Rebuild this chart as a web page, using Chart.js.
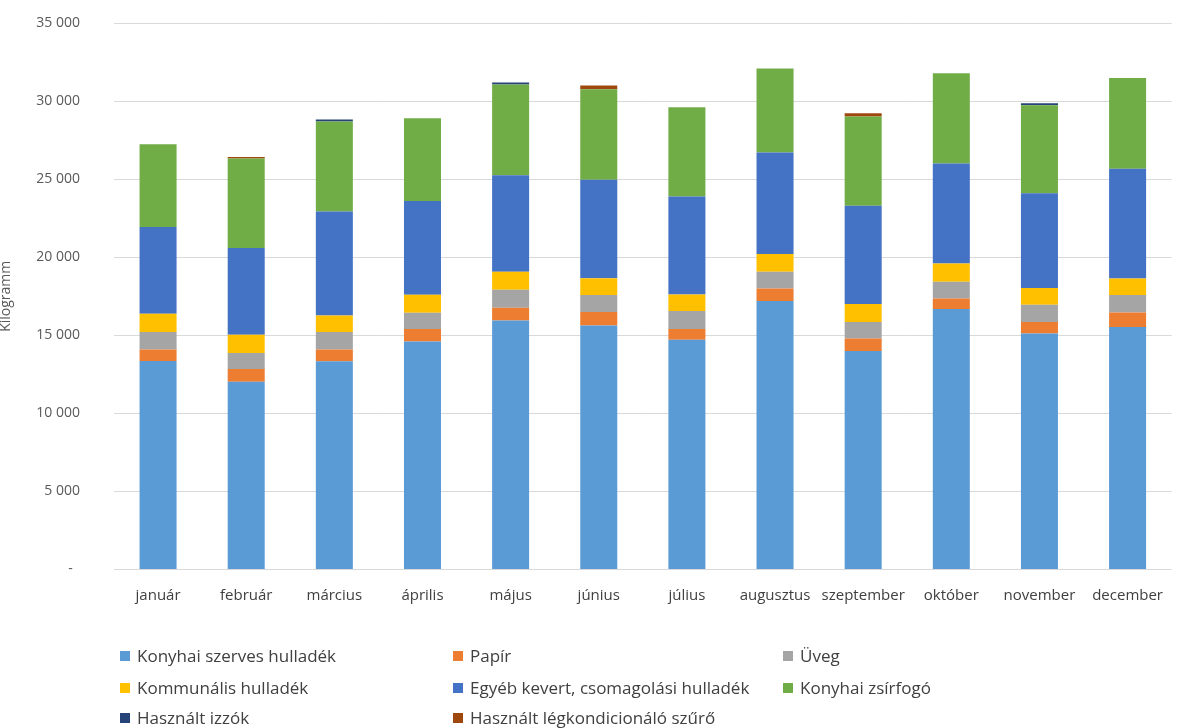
<!DOCTYPE html>
<html>
<head>
<meta charset="utf-8">
<script src="https://cdn.jsdelivr.net/npm/chart.js@4"></script>
<style>
  html, body { margin: 0; padding: 0; background: #fff; overflow: hidden; width: 1177px; height: 728px; }
  #wrap { position: absolute; left: -2px; top: 0; width: 1182px; height: 610px; }
  #legend { position: absolute; left: 0; top: 0; width: 1177px; height: 728px; pointer-events: none;
            font-family: "Open Sans", Lato, sans-serif; font-size: 17px; color: #404040; }
  .li { position: absolute; white-space: nowrap; line-height: 20px; }
  .mk { position: absolute; width: 10px; height: 10px; top: 5px; left: 0; }
  .tx { position: absolute; left: 17px; top: 0; }
</style>
</head>
<body>
<div id="wrap"><canvas id="c"></canvas></div>
<div id="legend"></div>
<script>
const months = ['január','február','március','április','május','június','július','augusztus','szeptember','október','november','december'];

const konyhaiSzerves = [13350, 12020, 13345, 14600, 15950, 15630, 14710, 17190, 13990, 16680, 15115, 15525];
const papir          = [745, 815, 745, 795, 815, 860, 685, 810, 805, 680, 730, 935];
const uveg           = [1115, 1025, 1115, 1045, 1155, 1090, 1155, 1070, 1050, 1070, 1110, 1115];
const kommunalis     = [1175, 1175, 1065, 1155, 1155, 1065, 1065, 1135, 1155, 1175, 1070, 1065];
const egyeb          = [5555, 5560, 6665, 6005, 6175, 6310, 6280, 6495, 6300, 6390, 6065, 7030];
const zsirfogo       = [5295, 5720, 5750, 5295, 5815, 5805, 5705, 5385, 5705, 5790, 5640, 5815];
const izzok          = [0, 0, 130, 0, 130, 0, 0, 0, 0, 0, 130, 0];
const legkondi       = [0, 110, 0, 0, 0, 235, 0, 0, 210, 0, 0, 0];

const seriesNames = ['Konyhai szerves hulladék','Papír','Üveg','Kommunális hulladék','Egyéb kevert, csomagolási hulladék','Konyhai zsírfogó','Használt izzók','Használt légkondicionáló szűrő'];
const seriesValues = [konyhaiSzerves, papir, uveg, kommunalis, egyeb, zsirfogo, izzok, legkondi];
const seriesColors = ['#5B9BD5','#ED7D31','#A5A5A5','#FFC000','#4472C4','#70AD47','#264478','#9E480E'];

const yTicks = [0, 5000, 10000, 15000, 20000, 25000, 30000, 35000];
const yAxisTitle = 'Kilogramm';

function fmt(v) {
  if (v === 0) return '-  ';
  return String(v).replace(/\B(?=(\d{3})+(?!\d))/g, ' ');
}

const FONT = '"Open Sans", Lato, sans-serif';

const chart = new Chart(document.getElementById('c'), {
  type: 'bar',
  data: {
    labels: months,
    datasets: seriesNames.map((n, i) => ({
      label: n,
      data: seriesValues[i],
      backgroundColor: seriesColors[i],
      borderWidth: 0,
      barPercentage: 0.42,
      categoryPercentage: 1.0
    }))
  },
  options: {
    responsive: true,
    maintainAspectRatio: false,
    animation: false,
    layout: { padding: { top: 23, left: 0, right: 0, bottom: 0 } },
    plugins: { legend: { display: false }, tooltip: { enabled: false } },
    scales: {
      x: {
        stacked: true,
        grid: { display: false, drawTicks: false },
        border: { display: false },
        ticks: { color: '#404040', font: { family: FONT, size: 15 }, padding: 17, maxRotation: 0, autoSkip: false },
        afterFit(s) { s.height = 40.5; }
      },
      y: {
        stacked: true,
        min: 0, max: 35000,
        afterBuildTicks(s) { s.ticks = yTicks.map(v => ({ value: v })); },
        grid: { color: '#D9D9D9', lineWidth: 1, drawTicks: true, tickLength: 34, tickColor: 'rgba(0,0,0,0)' },
        border: { display: false },
        ticks: { color: '#595959', font: { family: FONT, size: 14 }, padding: 0, callback: v => fmt(v) },
        title: { display: true, text: yAxisTitle, color: '#595959', font: { family: FONT, size: 14 }, padding: { top: 0, bottom: 0 } },
        afterFit(s) { s.width = 116; }
      }
    }
  }
});

// HTML legend built from the chart's datasets (3 columns)
const legendEl = document.getElementById('legend');
const colX = [120, 453, 783];
const rowY = [646, 678, 708];
chart.data.datasets.forEach((ds, i) => {
  const item = document.createElement('div');
  item.className = 'li';
  item.style.left = colX[i % 3] + 'px';
  item.style.top = rowY[Math.floor(i / 3)] + 'px';
  const mk = document.createElement('span');
  mk.className = 'mk';
  mk.style.background = ds.backgroundColor;
  const tx = document.createElement('span');
  tx.className = 'tx';
  tx.textContent = ds.label;
  item.appendChild(mk);
  item.appendChild(tx);
  legendEl.appendChild(item);
});
</script>
</body>
</html>
